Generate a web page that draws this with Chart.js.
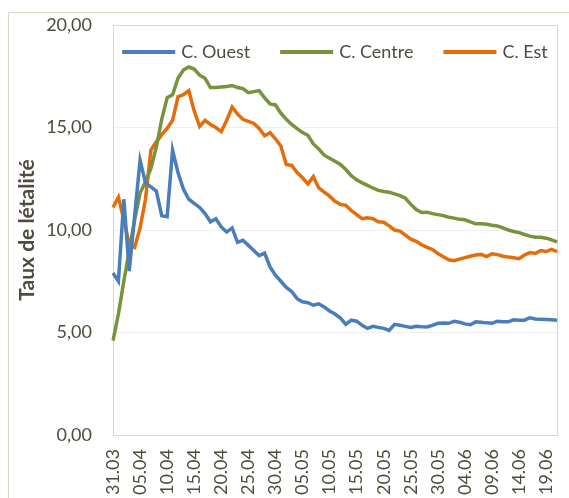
<!DOCTYPE html>
<html>
<head>
<meta charset="utf-8">
<script src="https://cdn.jsdelivr.net/npm/chart.js@4.4.0/dist/chart.umd.min.js"></script>
<style>
  html, body { margin: 0; padding: 0; overflow: hidden; background: #fff; }
</style>
</head>
<body>
<canvas id="letaliteChart" width="569" height="520"></canvas>
<script>
// dates 31.03 -> 21.06
const dates = [
  "31.03",
  "01.04","02.04","03.04","04.04","05.04","06.04","07.04","08.04","09.04","10.04",
  "11.04","12.04","13.04","14.04","15.04","16.04","17.04","18.04","19.04","20.04",
  "21.04","22.04","23.04","24.04","25.04","26.04","27.04","28.04","29.04","30.04",
  "01.05","02.05","03.05","04.05","05.05","06.05","07.05","08.05","09.05","10.05",
  "11.05","12.05","13.05","14.05","15.05","16.05","17.05","18.05","19.05","20.05",
  "21.05","22.05","23.05","24.05","25.05","26.05","27.05","28.05","29.05","30.05","31.05",
  "01.06","02.06","03.06","04.06","05.06","06.06","07.06","08.06","09.06","10.06",
  "11.06","12.06","13.06","14.06","15.06","16.06","17.06","18.06","19.06","20.06","21.06"
];

const ouest = [
  7.9, 7.5, 11.5, 8.0, 10.7, 13.4, 12.3, 12.1, 11.9, 10.7, 10.65, 13.9,
  12.8, 12.0, 11.5, 11.3, 11.1, 10.8, 10.4, 10.55, 10.15, 9.9, 10.1, 9.4, 9.5, 9.25, 9.0, 8.75,
  8.87, 8.2, 7.8, 7.5, 7.2, 7.0, 6.65, 6.5, 6.45, 6.33, 6.4, 6.25, 6.05, 5.9,
  5.7, 5.4, 5.6, 5.55, 5.35, 5.2, 5.3, 5.25, 5.2, 5.1,
  5.4, 5.35, 5.3, 5.25, 5.3, 5.28, 5.27, 5.35, 5.45, 5.46,
  5.45, 5.55, 5.5, 5.42, 5.38, 5.52, 5.5, 5.47, 5.45, 5.55,
  5.53, 5.52, 5.62, 5.6, 5.6, 5.72, 5.66, 5.65, 5.64, 5.62, 5.6
];

const centre = [
  4.6, 5.9, 7.5, 9.0, 10.5, 11.8, 12.35, 13.0, 14.05, 15.4, 16.45, 16.6,
  17.4, 17.8, 17.95, 17.85, 17.55, 17.4, 16.95, 16.95, 16.98, 17.0, 17.05, 16.95, 16.9, 16.7, 16.75, 16.8,
  16.45, 16.15, 16.1, 15.7, 15.4, 15.15, 14.95, 14.75, 14.62, 14.2, 13.95, 13.65, 13.5, 13.35,
  13.2, 12.95, 12.65, 12.45, 12.3, 12.18, 12.05, 11.93, 11.88, 11.84,
  11.76, 11.68, 11.55, 11.25, 11.0, 10.85, 10.87, 10.8, 10.75, 10.7,
  10.62, 10.58, 10.52, 10.5, 10.4, 10.3, 10.3, 10.28, 10.23, 10.2,
  10.1, 10.0, 9.93, 9.87, 9.78, 9.7, 9.65, 9.65, 9.6, 9.52, 9.42
];

const est = [
  11.1, 11.6, 10.5, 9.3, 9.15, 10.1, 11.5, 13.9, 14.3, 14.65, 14.95, 15.35,
  16.5, 16.6, 16.8, 15.8, 15.05, 15.35, 15.15, 15.0, 14.8, 15.35, 16.0, 15.65, 15.4, 15.3, 15.2, 14.95,
  14.6, 14.75, 14.45, 14.1, 13.2, 13.15, 12.8, 12.55, 12.25, 12.6, 12.05, 11.85, 11.65, 11.4,
  11.25, 11.2, 10.95, 10.75, 10.55, 10.6, 10.55, 10.4, 10.38, 10.2,
  10.0, 9.95, 9.75, 9.55, 9.45, 9.28, 9.15, 9.05, 8.85, 8.7,
  8.55, 8.5, 8.58, 8.65, 8.72, 8.78, 8.81, 8.7, 8.84, 8.8,
  8.72, 8.68, 8.65, 8.6, 8.78, 8.9, 8.86, 9.0, 8.95, 9.05, 8.95
];

const seriesNames = ["C. Ouest", "C. Centre", "C. Est"];
const seriesColors = ["#4a7ebb", "#77933c", "#e46c0a"];
const frameColor = "#dbd8ca";
const fontFamily = "Lato, 'Liberation Sans', sans-serif";
const textColor = "#4f4b3e";

Chart.defaults.font.family = fontFamily;
Chart.defaults.font.size = 18;
Chart.defaults.color = textColor;

// light frames like the excel chart border and plot area
const framePlugin = {
  id: "frame",
  beforeDraw(chart) {
    const ctx = chart.ctx;
    ctx.save();
    ctx.strokeStyle = frameColor;
    ctx.lineWidth = 1;
    ctx.strokeRect(8.5, 12.5, chart.width, chart.height);
    ctx.restore();
  },
  beforeDatasetsDraw(chart) {
    const { ctx, chartArea: a } = chart;
    ctx.save();
    ctx.strokeStyle = frameColor;
    ctx.lineWidth = 1;
    ctx.strokeRect(a.left + 0.5, a.top + 0.5, a.right - a.left, a.bottom - a.top);
    ctx.restore();
  }
};

// one-row legend sitting inside the plot area (excel style)
const lineLegend = {
  id: "lineLegend",
  afterDraw(chart) {
    const { ctx, chartArea: a } = chart;
    const lineW = 53, gapText = 6, gapItem = 30;
    ctx.save();
    ctx.font = "18px " + fontFamily;
    const items = chart.data.datasets.map((ds) => ({
      ds,
      w: lineW + gapText + ctx.measureText(ds.label).width,
    }));
    const total = items.reduce((s, it) => s + it.w, 0) + gapItem * (items.length - 1);
    let x = (a.left + a.right) / 2 - total / 2;
    const y = a.top + 27;
    items.forEach((it) => {
      ctx.strokeStyle = it.ds.borderColor;
      ctx.lineWidth = 4;
      ctx.beginPath();
      ctx.moveTo(x, y);
      ctx.lineTo(x + lineW, y);
      ctx.stroke();
      ctx.fillStyle = textColor;
      ctx.textBaseline = "middle";
      ctx.textAlign = "left";
      ctx.fillText(it.ds.label, x + lineW + gapText, y);
      x += it.w + gapItem;
    });
    ctx.restore();
  }
};

const allSeries = [ouest, centre, est];

new Chart(document.getElementById("letaliteChart").getContext("2d"), {
  type: "line",
  data: {
    labels: dates,
    datasets: allSeries.map((vals, k) => ({
      label: seriesNames[k],
      data: vals,
      borderColor: seriesColors[k],
      backgroundColor: seriesColors[k],
      borderWidth: 3.5,
      pointRadius: 0,
      tension: 0,
      fill: false,
    })),
  },
  options: {
    responsive: false,
    animation: false,
    layout: { padding: { left: 0, top: 25, right: 12, bottom: 0 } },
    scales: {
      x: {
        offset: false,
        grid: { display: false, drawTicks: false },
        border: { color: frameColor },
        ticks: {
          autoSkip: false,
          minRotation: 90,
          maxRotation: 90,
          padding: 14,
          callback: function (val, idx) {
            return idx % 5 === 0 ? this.getLabelForValue(val) : "";
          },
        },
        afterFit: (s) => {
          s.height = 85;
          s.paddingLeft = 0;
          s.paddingRight = 0;
        },
      },
      y: {
        min: 0,
        max: 20,
        grid: { color: "#efefef", drawTicks: false },
        border: { color: frameColor },
        ticks: {
          stepSize: 5,
          padding: 21,
          callback: (v) => v.toFixed(2).replace(".", ","),
        },
        title: {
          display: true,
          text: "Taux de létalité",
          font: { weight: "bold", size: 21 },
          padding: { top: 15, bottom: 0 },
        },
        afterFit: (s) => {
          s.width = 113;
          s.paddingTop = 0;
          s.paddingBottom = 0;
        },
      },
    },
    plugins: {
      legend: { display: false },
      tooltip: { enabled: false },
    },
  },
  plugins: [framePlugin, lineLegend],
});
</script>
</body>
</html>
